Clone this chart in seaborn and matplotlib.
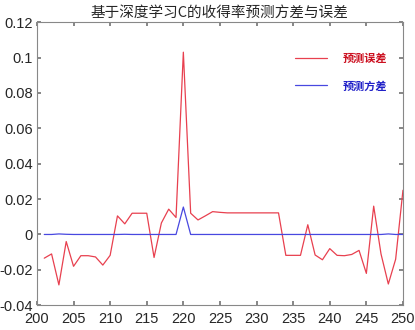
import matplotlib
matplotlib.use("Agg")
import matplotlib.pyplot as plt
import pandas as pd
import seaborn as sns

sns.set_theme(style="ticks")
plt.rcParams["font.family"] = ["Liberation Sans", "Noto Sans CJK SC", "DejaVu Sans"]

days = list(range(201, 251))
pred_error = [
    -0.0134, -0.011, -0.0285, -0.004, -0.018, -0.012, -0.012, -0.0127, -0.0173, -0.0118,
    0.0105, 0.006, 0.012, 0.012, 0.012, -0.013, 0.0065, 0.0143, 0.0096, 0.103,
    0.012, 0.0082, 0.0105, 0.0129, 0.0125, 0.0122, 0.0122, 0.0122, 0.0122, 0.0122,
    0.0122, 0.0122, 0.0122, -0.0118, -0.0118, -0.0118, 0.0055, -0.0116, -0.0143, -0.008,
    -0.0118, -0.012, -0.0113, -0.009, -0.022, 0.016, -0.011, -0.028, -0.014, 0.025,
]
pred_var = [
    0.0, 0.0, 0.0003, 0.0001, 0.0, 0.0, 0.0, 0.0, 0.0, 0.0,
    0.0, 0.0001, 0.0, 0.0, 0.0, 0.0, 0.0, 0.0, 0.0, 0.0155,
    0.0, 0.0, 0.0, 0.0, 0.0, 0.0, 0.0, 0.0, 0.0, 0.0,
    0.0, 0.0, 0.0, 0.0, 0.0, 0.0, 0.0, 0.0, 0.0, 0.0,
    0.0, 0.0, 0.0, 0.0, 0.0, 0.0, 0.0, 0.0003, 0.0, 0.0,
]
labels = ["预测误差", "预测方差"]
colors = ["#e8404f", "#4848e0"]

df = pd.DataFrame({"day": days * 2,
                   "value": pred_error + pred_var,
                   "series": [labels[0]] * len(days) + [labels[1]] * len(days)})

fig = plt.figure(figsize=(4.15, 3.3), dpi=100)
ax = fig.add_axes([0.089, 0.075, 0.882, 0.858])
sns.lineplot(data=df, x="day", y="value", hue="series", palette=colors,
             linewidth=0.9, ax=ax)

ax.set_xlim(200, 250)
ax.set_ylim(-0.04, 0.12)
ax.set_xticks(range(200, 251, 5))
ax.set_yticks([-0.04, -0.02, 0, 0.02, 0.04, 0.06, 0.08, 0.1, 0.12])
ax.set_yticklabels(["-0.04", "-0.02", "0", "0.02", "0.04", "0.06", "0.08", "0.1", "0.12"])
ax.set_xlabel("")
ax.set_ylabel("")
ax.tick_params(direction="in", top=True, right=True, length=3, labelsize=10.5,
               color="#777777", pad=3)
ax.tick_params(axis="x", pad=5)
for s in ax.spines.values():
    s.set_color("#888888")
    s.set_linewidth(0.8)

ax.legend(loc="upper right", frameon=False, handlelength=2.9,
          handletextpad=1.4, labelspacing=1.3, bbox_to_anchor=(0.985, 0.93),
          prop={"family": "Noto Sans CJK SC", "size": 8, "weight": "bold"},
          labelcolor=["#cc1020", "#2020c8"])
ax.set_title("基于深度学习C的收得率预测方差与误差", fontsize=10.5, pad=4,
             fontweight="medium", family=["Noto Sans CJK SC", "DejaVu Sans"])

fig.savefig("out.png", dpi=100)
